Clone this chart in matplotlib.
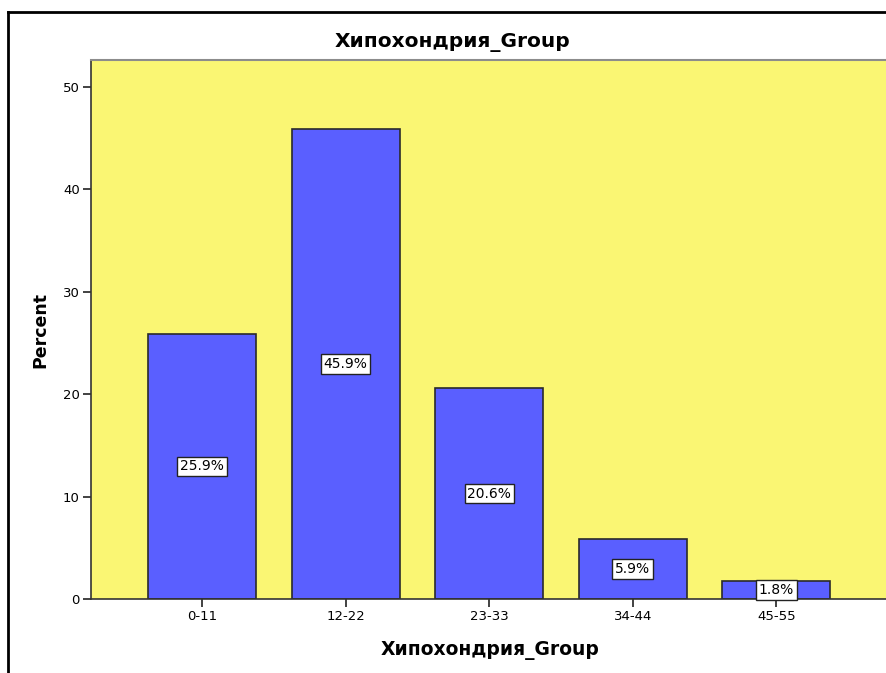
import matplotlib
matplotlib.use("Agg")
import matplotlib.pyplot as plt
from matplotlib.lines import Line2D

groups = ["0-11", "12-22", "23-33", "34-44", "45-55"]
percent = [25.9, 45.9, 20.6, 5.9, 1.8]
yticks = [0, 10, 20, 30, 40, 50]

plt.rcParams["font.family"] = ["DejaVu Sans"]

fig = plt.figure(figsize=(8.86, 6.73), dpi=100)
ax = fig.add_axes([91 / 886, 74 / 673, 1 - 91 / 886, 539 / 673])
ax.set_facecolor("#FAF673")

x = list(range(len(groups)))
ax.bar(x, percent, width=0.752, color="#5A5FFF", edgecolor="#2a2a2a", linewidth=1.2, zorder=2)

for xi, v in zip(x, percent):
    ax.text(xi, v / 2, f"{v:.1f}%", ha="center", va="center", fontsize=10, zorder=3,
            bbox=dict(boxstyle="square,pad=0.2", facecolor="white", edgecolor="#222222", linewidth=1))

ax.set_xlim(-0.773, 4.763)
ax.set_ylim(0, 52.64)
ax.set_xticks(x)
ax.set_xticklabels(groups, fontsize=9.5)
ax.set_yticks(yticks)
ax.set_yticklabels([str(t) for t in yticks], fontsize=9.5)
ax.tick_params(axis="both", direction="out", length=6, width=1.2, color="#222222", pad=2)

ax.spines["right"].set_visible(False)
ax.spines["top"].set_color("#8c8c8c")
ax.spines["top"].set_linewidth(1.5)
for side in ["left", "bottom"]:
    ax.spines[side].set_color("#333333")
    ax.spines[side].set_linewidth(1.2)

fig.text(452 / 886, 1 - 43 / 673, "Хипохондрия_Group", ha="center", va="center",
         fontsize=14.5, fontweight="bold")
fig.text(490 / 886, 1 - 650 / 673, "Хипохондрия_Group", ha="center", va="center",
         fontsize=13.5, fontweight="bold")
fig.text(40 / 886, 1 - 330 / 673, "Percent", ha="center", va="center", rotation=90,
         fontsize=12.5, fontweight="bold")

# outer frame of the chart area
fig.add_artist(Line2D([8 / 886, 8 / 886], [0, 1 - 12 / 673], color="black", linewidth=2,
                      transform=fig.transFigure))
fig.add_artist(Line2D([8 / 886, 1], [1 - 12 / 673, 1 - 12 / 673], color="black", linewidth=2,
                      transform=fig.transFigure))

fig.savefig("out.png", dpi=100)
